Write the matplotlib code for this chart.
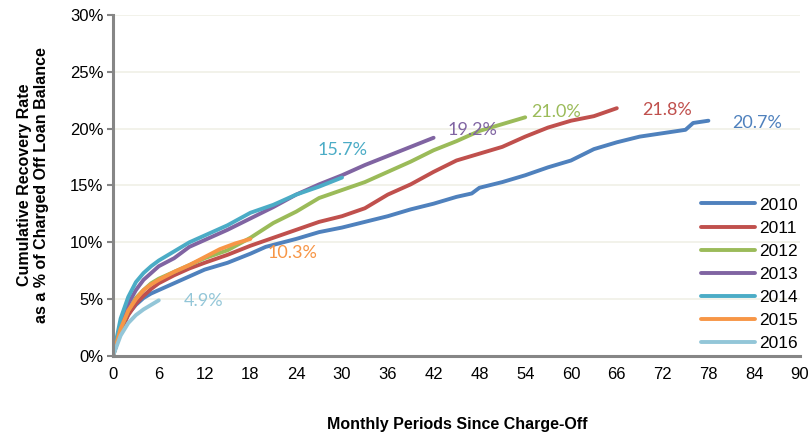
import matplotlib
matplotlib.use("Agg")
import matplotlib.pyplot as plt
from matplotlib.ticker import FuncFormatter

# ---- data ----
years = ["2010", "2011", "2012", "2013", "2014", "2015", "2016"]

m2010 = [0, 1, 2, 3, 4, 5, 6, 8, 10, 12, 15, 18, 20, 24, 27, 30, 33, 36, 39, 42, 45, 47, 48, 51, 54, 57, 60, 63, 66, 69, 72, 75, 76, 78]
v2010 = [0, 2.3, 3.7, 4.5, 5.1, 5.5, 5.8, 6.4, 7.0, 7.6, 8.2, 9.0, 9.6, 10.3, 10.9, 11.3, 11.8, 12.3, 12.9, 13.4, 14.0, 14.3, 14.8, 15.3, 15.9, 16.6, 17.2, 18.2, 18.8, 19.3, 19.6, 19.9, 20.5, 20.7]

m2011 = [0, 1, 2, 3, 4, 5, 6, 8, 10, 12, 15, 18, 21, 24, 27, 30, 33, 36, 39, 42, 45, 48, 51, 54, 57, 60, 63, 66]
v2011 = [0, 2.2, 3.6, 4.6, 5.3, 5.9, 6.4, 7.1, 7.7, 8.2, 8.9, 9.7, 10.4, 11.1, 11.8, 12.3, 13.0, 14.2, 15.1, 16.2, 17.2, 17.8, 18.4, 19.3, 20.1, 20.7, 21.1, 21.8]

m2012 = [0, 1, 2, 3, 4, 5, 6, 8, 10, 12, 15, 18, 21, 24, 27, 30, 33, 36, 39, 42, 45, 48, 51, 54]
v2012 = [0, 2.4, 4.0, 5.1, 5.8, 6.4, 6.8, 7.4, 8.0, 8.6, 9.3, 10.4, 11.7, 12.7, 13.9, 14.6, 15.3, 16.2, 17.1, 18.1, 18.9, 19.8, 20.4, 21.0]

m2013 = [0, 1, 2, 3, 4, 5, 6, 8, 10, 12, 15, 18, 21, 24, 27, 30, 33, 36, 39, 42]
v2013 = [0, 2.8, 4.6, 5.8, 6.7, 7.3, 7.9, 8.6, 9.6, 10.2, 11.1, 12.1, 13.1, 14.2, 15.1, 15.9, 16.8, 17.6, 18.4, 19.2]

m2014 = [0, 1, 2, 3, 4, 5, 6, 8, 10, 12, 15, 18, 21, 24, 27, 30]
v2014 = [0, 3.3, 5.2, 6.5, 7.3, 7.9, 8.4, 9.2, 10.0, 10.6, 11.5, 12.6, 13.3, 14.2, 14.9, 15.7]

m2015 = [0, 1, 2, 3, 4, 5, 6, 8, 10, 12, 14, 16, 18]
v2015 = [0, 2.4, 4.0, 5.0, 5.8, 6.3, 6.7, 7.4, 8.0, 8.7, 9.4, 9.9, 10.3]

m2016 = [0, 1, 2, 3, 4, 5, 6]
v2016 = [0, 1.8, 2.9, 3.6, 4.1, 4.5, 4.9]

labels = ["20.7%", "21.8%", "21.0%", "19.2%", "15.7%", "10.3%", "4.9%"]
label_x = [84.4, 72.6, 58.1, 47.1, 30.1, 23.5, 11.8]
label_y = [20.5, 21.6, 21.5, 19.9, 18.1, 9.1, 4.8]

x_ticks = list(range(0, 91, 6))
y_ticks = [0, 5, 10, 15, 20, 25, 30]

colors = ["#4F81BD", "#C0504D", "#9BBB59", "#8064A2", "#4BACC6", "#F79646", "#93C6D8"]

series = [(m2010, v2010), (m2011, v2011), (m2012, v2012), (m2013, v2013),
          (m2014, v2014), (m2015, v2015), (m2016, v2016)]

fig = plt.figure(figsize=(8.12, 4.38), dpi=100)
ax = fig.add_axes([113 / 812, 1 - 356 / 438, (800 - 113) / 812, (356 - 15) / 438])

for (mx, vy), yr, c in zip(series, years, colors):
    ax.plot(mx, vy, color=c, lw=2.8, label=yr, solid_capstyle="round", solid_joinstyle="round")

for t, lx, ly, c in zip(labels, label_x, label_y, colors):
    ax.text(lx, ly, t, color=c, fontsize=13, family="Lato", ha="center", va="center")

ax.set_xlim(0, 90)
ax.set_ylim(0, 30)
ax.set_xticks(x_ticks)
ax.set_yticks(y_ticks)
ax.yaxis.set_major_formatter(FuncFormatter(lambda v, p: f"{v:.0f}%"))
ax.grid(axis="y", color="#F0F0E6", lw=1.2)
ax.set_axisbelow(True)
for s in ["top", "right"]:
    ax.spines[s].set_visible(False)
for s in ["left", "bottom"]:
    ax.spines[s].set_color("#868686")
    ax.spines[s].set_linewidth(2.2)
ax.tick_params(axis="x", length=0, pad=8, labelsize=12)
ax.tick_params(axis="y", length=4, width=1.5, color="#868686", pad=3, labelsize=12)
for lab in ax.get_xticklabels() + ax.get_yticklabels():
    lab.set_family("Liberation Sans")

leg = ax.legend(loc="lower right", bbox_to_anchor=(1.012, -0.017), frameon=False,
                prop={"family": "Liberation Sans", "size": 12.5},
                handlelength=3.1, handletextpad=0.23, labelspacing=0.46,
                borderaxespad=0.2)

fig.text(457 / 812, 1 - 425 / 438, "Monthly Periods Since Charge-Off", ha="center", va="center",
         fontsize=11.5, fontweight="bold", family="Liberation Sans")
fig.text(33 / 812, 1 - 185 / 438, "Cumulative Recovery Rate\nas a % of Charged Off Loan Balance",
         ha="center", va="center", rotation=90, multialignment="center",
         fontsize=11.5, fontweight="bold", family="Liberation Sans", linespacing=1.15)

fig.savefig("out.png", dpi=100)
